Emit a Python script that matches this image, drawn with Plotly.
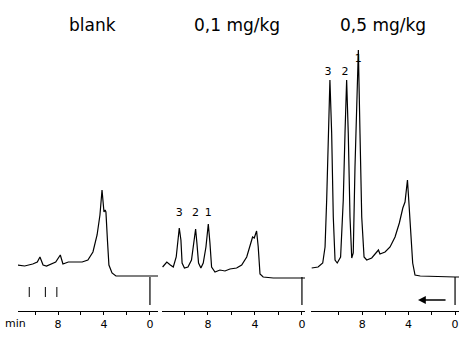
import plotly.graph_objects as go

# ---------------- data (time in min, detector signal in arbitrary units) ----------------
blank_t = [11.5, 10.9, 10.2, 9.8, 9.57, 9.3, 9.0, 8.5, 8.2, 7.8, 7.57, 7.1, 6.5, 5.9, 5.4, 4.96,
           4.6, 4.35, 4.17, 4.09, 4.0, 3.9, 3.83, 3.7, 3.57, 3.3, 2.96, 1.74, 0.0, -0.7]
blank_s = [12, 11, 13, 15, 20, 12, 11, 14, 15, 22, 13, 15, 15, 15, 17, 25,
           42, 62, 87, 72, 65, 67, 65, 37, 12, 4, 1, 1, 1, 1]

low_t = [11.86, 11.5, 11.2, 10.95, 10.7, 10.55, 10.44, 10.3, 10.2, 10.0, 9.7, 9.4, 9.2, 9.05,
         8.94, 8.8, 8.6, 8.4, 8.17, 7.97, 7.83, 7.69, 7.4, 6.98, 6.55, 6.13, 5.56, 5.13, 4.7,
         4.43, 4.2, 4.06, 3.86, 3.72, 3.57, 3.3, 2.44, 0.0, -0.26]
low_s = [10, 15, 12, 10, 20, 37, 49, 37, 14, 9, 10, 17, 34, 48,
         34, 14, 9, 14, 30, 53, 34, 10, 5, 7, 6, 8, 9, 12, 20,
         30, 40, 39, 46, 30, 3, 0, -1, -1, -1]

high_t = [12.35, 11.8, 11.4, 11.2, 11.06, 10.92, 10.78, 10.63, 10.49, 10.34, 10.15, 9.86, 9.63,
          9.48, 9.34, 9.2, 9.05, 8.9, 8.77, 8.62, 8.47, 8.33, 8.19, 8.04, 7.84, 7.61, 7.18, 6.8,
          6.6, 6.47, 6.03, 5.6, 5.17, 4.8, 4.5, 4.31, 4.22, 4.1, 3.99, 3.82, 3.65, 3.45, 3.0,
          0.0, -0.34]
high_s = [9, 10, 14, 30, 77, 144, 197, 144, 60, 17, 14, 20, 77,
          144, 197, 144, 60, 19, 24, 110, 177, 227, 144, 60, 20, 17, 19, 24,
          27, 23, 25, 30, 40, 54, 69, 75, 84, 97, 77, 44, 14, 2, 1,
          0, 0]

# injection / start markers
inject_t = [10.5, 9.1, 8.1]
inject_s = [-10, -20]
start_t = 0.0
start_s = [0, -28]

# peak labels
low_peak_t = [10.44, 9.05, 7.97]
low_peak_s = [64, 64, 64]
high_peak_t = [10.95, 9.48, 8.33]
high_peak_s = [205, 205, 218]
peak_names = ["3", "2", "1"]

titles = ["blank", "0,1 mg/kg", "0,5 mg/kg"]
tick_vals = [10, 8, 6, 4, 2, 0]
tick_text = ["", "8", "", "4", "", "0"]

# ---------------- figure ----------------
W, H = 459, 341
FONT = "DejaVu Sans"
line = dict(color="black", width=1.2)

fig = go.Figure()
panels = [(blank_t, blank_s, "x"), (low_t, low_s, "x2"), (high_t, high_s, "x3")]
for t, s, xa in panels:
    fig.add_trace(go.Scatter(x=t, y=s, xaxis=xa, yaxis="y", mode="lines", line=line,
                             hoverinfo="skip", showlegend=False))
    fig.add_trace(go.Scatter(x=[start_t, start_t], y=start_s, xaxis=xa, yaxis="y",
                             mode="lines", line=line, hoverinfo="skip", showlegend=False))

for it in inject_t:
    fig.add_trace(go.Scatter(x=[it, it], y=inject_s, xaxis="x", yaxis="y", mode="lines",
                             line=dict(color="black", width=1), hoverinfo="skip", showlegend=False))

fig.add_trace(go.Scatter(x=low_peak_t, y=low_peak_s, xaxis="x2", yaxis="y", mode="text",
                         text=peak_names, textfont=dict(family=FONT, size=11, color="black"),
                         hoverinfo="skip", showlegend=False))
fig.add_trace(go.Scatter(x=high_peak_t, y=high_peak_s, xaxis="x3", yaxis="y", mode="text",
                         text=peak_names, textfont=dict(family=FONT, size=11, color="black"),
                         hoverinfo="skip", showlegend=False))

# layout geometry (pixels)
doms = [(18, 158), (162, 305), (311, 459)]
ranges = [[11.48, -0.7], [11.91, -0.26], [12.41, -0.34]]
axis_common = dict(showgrid=False, zeroline=False, showline=True, linecolor="black", linewidth=1,
                   ticks="outside", ticklen=3, tickcolor="black", tickwidth=1,
                   tickvals=tick_vals, ticktext=tick_text,
                   tickfont=dict(family=FONT, size=11, color="black"), anchor="y")
for i, (d, r) in enumerate(zip(doms, ranges)):
    key = "xaxis" if i == 0 else f"xaxis{i+1}"
    fig.layout[key] = dict(axis_common, domain=[d[0] / W, d[1] / W], range=r)

PLOT_H = 311
fig.update_layout(
    width=W, height=H,
    margin=dict(l=0, r=0, t=0, b=H - PLOT_H),
    paper_bgcolor="white", plot_bgcolor="white",
    yaxis=dict(range=[-34, 277], visible=False, domain=[0, 1]),
)

title_x = [92, 237, 383]
for tx, tt in zip(title_x, titles):
    fig.add_annotation(text=tt, x=tx / W, y=(PLOT_H - 25) / PLOT_H, xref="paper", yref="paper",
                       showarrow=False, font=dict(family=FONT, size=17, color="black"),
                       xanchor="center", yanchor="middle")

fig.add_annotation(text="min", x=15 / W, y=-(323 - PLOT_H) / PLOT_H, xref="paper", yref="paper",
                   showarrow=False, font=dict(family=FONT, size=11, color="black"),
                   xanchor="center", yanchor="middle")

# flow-direction arrow in the last panel
fig.add_annotation(x=3.19, y=-23, ax=0.69, ay=-23, xref="x3", yref="y", axref="x3", ayref="y",
                   text="", showarrow=True, arrowhead=2, arrowsize=1.2, arrowwidth=1.3,
                   arrowcolor="black")

fig.write_html("out.html", config={"displayModeBar": False, "staticPlot": True},
               post_script="document.body.style.margin='0';document.body.style.overflow='hidden';")
